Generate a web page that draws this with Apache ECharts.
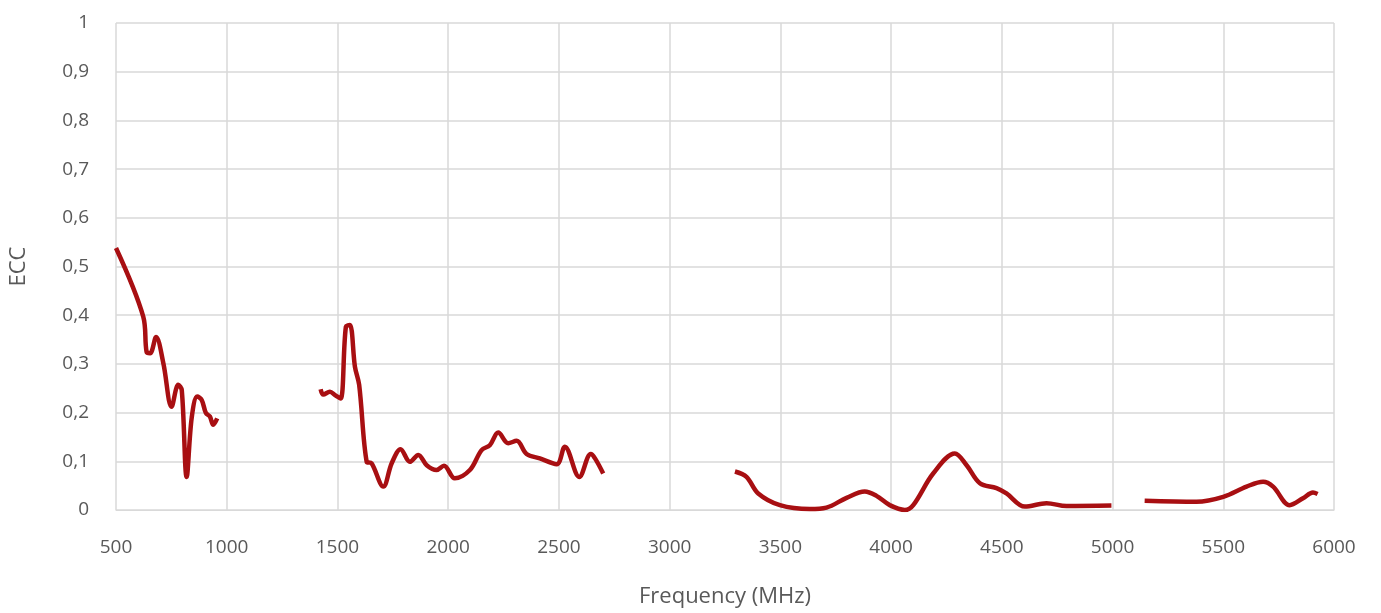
<!DOCTYPE html>
<html>
<head>
<meta charset="utf-8">
<script src="https://cdn.jsdelivr.net/npm/echarts@6/dist/echarts.min.js"></script>
<style>
  html, body { margin: 0; padding: 0; background: #fff; }
  #chart { width: 1381px; height: 613px; }
</style>
</head>
<body>
<div id="chart"></div>
<script>
// four measured bands, frequency in MHz
const freq1 = [500, 623, 638, 654, 681, 714, 751, 781, 797, 819, 842, 867, 887, 906, 924, 939, 957]
const ecc1 = [0.538, 0.397, 0.325, 0.322, 0.355, 0.301, 0.212, 0.257, 0.246, 0.068, 0.19, 0.233, 0.226, 0.199, 0.192, 0.175, 0.188]

const freq2 = [1424, 1436, 1466, 1489, 1514, 1538, 1556, 1579, 1598, 1632, 1654, 1707, 1745, 1785, 1827, 1865, 1903, 1947, 1981, 2030, 2098, 2151, 2188, 2226, 2271, 2309, 2354, 2414, 2490, 2527, 2592, 2644, 2663, 2700]
const ecc2 = [0.248, 0.237, 0.243, 0.236, 0.229, 0.376, 0.38, 0.294, 0.257, 0.099, 0.096, 0.048, 0.096, 0.125, 0.099, 0.113, 0.092, 0.082, 0.091, 0.065, 0.082, 0.123, 0.133, 0.159, 0.137, 0.142, 0.115, 0.106, 0.094, 0.13, 0.068, 0.115, 0.106, 0.075]

const freq3 = [3295, 3347, 3400, 3498, 3633, 3708, 3799, 3881, 3934, 3994, 4062, 4100, 4190, 4288, 4341, 4401, 4476, 4521, 4604, 4702, 4792, 4995]
const ecc3 = [0.079, 0.068, 0.034, 0.010, 0.002, 0.005, 0.025, 0.038, 0.029, 0.010, 0.0, 0.010, 0.075, 0.116, 0.092, 0.055, 0.045, 0.034, 0.007, 0.014, 0.008, 0.009]

const freq4 = [5145, 5379, 5500, 5605, 5680, 5725, 5800, 5860, 5905, 5926]
const ecc4 = [0.019, 0.017, 0.027, 0.048, 0.058, 0.048, 0.010, 0.024, 0.036, 0.033]

const bands = [[freq1, ecc1], [freq2, ecc2], [freq3, ecc3], [freq4, ecc4]]

const labelColor = "#595959"
const gridColor = "#d9d9d9"
const lineColor = "#a80f12"

const myChart = echarts.init(document.getElementById("chart"))

const option = {
    animation: false,
    grid: {
        left: 116,
        right: 47,
        top: 23,
        bottom: 103
    },
    xAxis: {
        type: 'value',
        min: 500,
        max: 6000,
        interval: 500,
        name: 'Frequency (MHz)',
        nameLocation: 'middle',
        nameGap: 76,
        nameTextStyle: {
            color: labelColor,
            fontSize: 22,
            fontFamily: 'Open Sans'
        },
        axisLine: { lineStyle: { color: gridColor } },
        axisTick: { show: false },
        axisLabel: {
            color: labelColor,
            fontSize: 19,
            fontFamily: 'Open Sans',
            margin: 28,
            formatter: function (v) {
                return String(v)
            }
        },
        splitLine: { lineStyle: { color: gridColor, width: 1.5 } }
    },
    yAxis: {
        type: 'value',
        min: 0,
        max: 1,
        interval: 0.1,
        name: 'ECC',
        nameLocation: 'middle',
        nameGap: 86,
        nameTextStyle: {
            color: labelColor,
            fontSize: 22,
            fontFamily: 'Open Sans'
        },
        axisLine: { show: false },
        axisTick: { show: false },
        axisLabel: {
            color: labelColor,
            fontSize: 19,
            fontFamily: 'Open Sans',
            margin: 27,
            formatter: function (v) {
                return String(Math.round(v * 10) / 10).replace('.', ',')
            }
        },
        splitLine: { lineStyle: { color: gridColor, width: 1.5 } }
    },
    series: bands.map(function (b) {
        return {
            type: 'line',
            smooth: 0.35,
            showSymbol: false,
            lineStyle: { color: lineColor, width: 4.5 },
            data: b[0].map(function (f, i) { return [f, b[1][i]] })
        }
    })
}

myChart.setOption(option)
</script>
</body>
</html>
